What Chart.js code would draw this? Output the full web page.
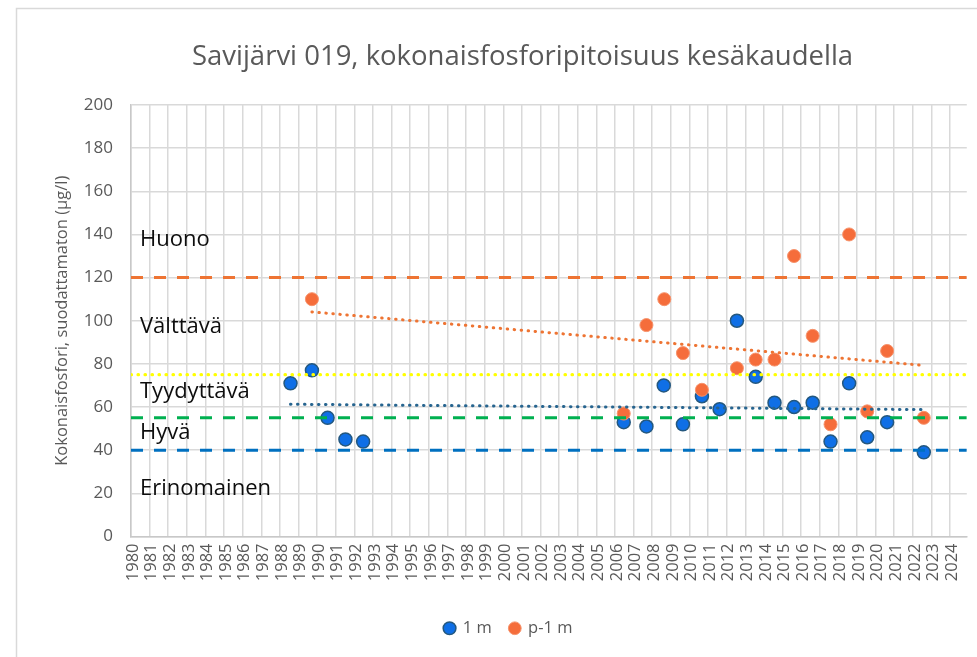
<!DOCTYPE html>
<html>
<head>
<meta charset="utf-8">
<script src="https://cdn.jsdelivr.net/npm/chart.js@4.4.1/dist/chart.umd.min.js"></script>
<style>
html,body{margin:0;padding:0;background:#fff;}
#wrap{position:relative;width:977px;height:657px;}
</style>
</head>
<body>
<div id="wrap"><canvas id="c" width="977" height="657"></canvas></div>
<script>
// ---- data ----
const years1m = [1988.57, 1989.72, 1990.56, 1991.52, 1992.47, 2006.47, 2007.69, 2008.62, 2009.65, 2010.67, 2011.62, 2012.55, 2013.56, 2014.57, 2015.62, 2016.62, 2017.58, 2018.58, 2019.55, 2020.62, 2022.59];
const values1m = [71, 77, 55, 45, 44, 53, 51, 70, 52, 65, 59, 100, 74, 62, 60, 62, 44, 71, 46, 53, 39];
const yearsP1m = [1989.72, 2006.47, 2007.69, 2008.65, 2009.65, 2010.67, 2012.55, 2013.56, 2014.57, 2015.62, 2016.62, 2017.58, 2018.58, 2019.55, 2020.62, 2022.59];
const valuesP1m = [110, 57, 98, 110, 85, 68, 78, 82, 82, 130, 93, 52, 140, 58, 86, 55];
const trend1mYears = [1988.57, 2022.59];
const trend1mValues = [61.3, 58.8];
const trendP1mYears = [1989.72, 2022.59];
const trendP1mValues = [104.1, 79.3];
const classLimits = [120, 75, 55, 40];
const classNames = ["Huono", "Välttävä", "Tyydyttävä", "Hyvä", "Erinomainen"];
const classLabelLevels = [138.1, 97.9, 67.7, 48.9, 22.9];
const xTickYears = [1980,1981,1982,1983,1984,1985,1986,1987,1988,1989,1990,1991,1992,1993,1994,1995,1996,1997,1998,1999,2000,2001,2002,2003,2004,2005,2006,2007,2008,2009,2010,2011,2012,2013,2014,2015,2016,2017,2018,2019,2020,2021,2022,2023,2024];
const yTickValues = [0,20,40,60,80,100,120,140,160,180,200];
const xRange = [1980, 2024.9];
const yRange = [0, 200];
const seriesNames = ["1 m", "p-1 m"];
const chartTitle = "Savijärvi 019, kokonaisfosforipitoisuus kesäkaudella";
const yTitle = "Kokonaisfosfori, suodattamaton (µg/l)";

// ---- styles ----
const limitColors = ["#EE7433", "#FFFF00", "#00B050", "#0070C0"];
const limitDashes = [[12, 11], [0.5, 6.5], [12, 11], [12, 11]];
const limitWidths = [3, 3.2, 3, 3];
const FONT = '"Open Sans", "Liberation Sans", sans-serif';
const GREY = '#595959';

const toXY = (xs, ys) => xs.map((x, i) => ({x: x, y: ys[i]}));

const datasets = [
  {
    label: seriesNames[0], data: toXY(years1m, values1m), showLine: false,
    pointRadius: 6.5, pointHoverRadius: 6.5,
    backgroundColor: '#0F6FE6', borderColor: '#24587F', borderWidth: 1.5,
    pointBackgroundColor: '#0F6FE6', pointBorderColor: '#24587F', pointBorderWidth: 1.5,
    order: 3, inLegend: true
  },
  {
    label: seriesNames[1], data: toXY(yearsP1m, valuesP1m), showLine: false,
    pointRadius: 6.5, pointHoverRadius: 6.5,
    backgroundColor: '#F56D3B', borderColor: '#F7936C', borderWidth: 1,
    pointBackgroundColor: '#F56D3B', pointBorderColor: '#F7936C', pointBorderWidth: 1,
    order: 2, inLegend: true
  },
  {
    label: 'trend 1 m', data: toXY(trend1mYears, trend1mValues), showLine: true,
    pointRadius: 0, borderColor: '#26648F', borderWidth: 3, borderDash: [0.5, 6.5],
    borderCapStyle: 'round', fill: false, order: 1, inLegend: false
  },
  {
    label: 'trend p-1 m', data: toXY(trendP1mYears, trendP1mValues), showLine: true,
    pointRadius: 0, borderColor: '#EE7433', borderWidth: 3, borderDash: [0.5, 6.5],
    borderCapStyle: 'round', fill: false, order: 1, inLegend: false
  }
];
classLimits.forEach((v, i) => {
  datasets.push({
    label: 'limit ' + v, data: toXY(xRange, [v, v]), showLine: true,
    pointRadius: 0, borderColor: limitColors[i], borderWidth: limitWidths[i],
    borderDash: limitDashes[i], borderCapStyle: i === 1 ? 'round' : 'butt',
    fill: false, order: 0, inLegend: false
  });
});

const framePlugin = {
  id: 'frame',
  beforeDraw(chart) {
    const ctx = chart.ctx;
    ctx.save();
    ctx.fillStyle = '#fff';
    ctx.fillRect(0, 0, chart.width, chart.height);
    ctx.strokeStyle = '#D9D9D9';
    ctx.lineWidth = 1.5;
    ctx.strokeRect(16.5, 8.5, chart.width + 20, chart.height + 20);
    ctx.restore();
  }
};

const regionLabelPlugin = {
  id: 'regionLabels',
  afterDatasetsDraw(chart) {
    const {ctx, chartArea, scales} = chart;
    ctx.save();
    ctx.font = '22px ' + FONT;
    ctx.fillStyle = '#0D0D0D';
    ctx.textAlign = 'left';
    ctx.textBaseline = 'alphabetic';
    classNames.forEach((t, i) => {
      ctx.fillText(t, chartArea.left + 9, scales.y.getPixelForValue(classLabelLevels[i]) + 7.9);
    });
    ctx.restore();
  }
};

const shiftPlugin = {
  id: 'shiftBlocks',
  afterLayout(chart) {
    if (chart.titleBlock) { chart.titleBlock.left += 30; chart.titleBlock.right += 30; }
    if (chart.legend) { chart.legend.left += 16; chart.legend.right += 16; }
  }
};

new Chart(document.getElementById('c'), {
  type: 'scatter',
  data: { datasets: datasets },
  plugins: [framePlugin, regionLabelPlugin, shiftPlugin],
  options: {
    responsive: false,
    animation: false,
    events: [],
    layout: { padding: { left: 16, right: 8, top: 0, bottom: 10.5 } },
    plugins: {
      tooltip: { enabled: false },
      title: {
        display: true, text: chartTitle, color: GREY,
        font: { family: FONT, size: 27.5, weight: 'normal', lineHeight: 1.2 },
        padding: { top: 40.5, bottom: 31.5 }
      },
      legend: {
        display: true, position: 'bottom',
        labels: {
          usePointStyle: true, pointStyle: 'circle', boxWidth: 10, boxHeight: 9,
          padding: 18, color: GREY,
          font: { family: FONT, size: 16.5 },
          filter: (item, data) => data.datasets[item.datasetIndex].inLegend,
          sort: (a, b) => a.datasetIndex - b.datasetIndex
        }
      }
    },
    scales: {
      x: {
        type: 'linear', min: xRange[0], max: xRange[1],
        afterBuildTicks: (s) => { s.ticks = xTickYears.map(v => ({value: v})); },
        afterFit: (s) => { s.height = 65.5; },
        ticks: {
          autoSkip: false, minRotation: 90, maxRotation: 90, padding: 7, labelOffset: 2,
          color: GREY, font: { family: FONT, size: 16.5 },
          callback: (v) => String(v)
        },
        grid: { color: '#D9D9D9', lineWidth: 1.5, drawTicks: false },
        border: { color: '#C8C8C8', width: 1.5 }
      },
      y: {
        type: 'linear', min: yRange[0], max: yRange[1],
        afterBuildTicks: (s) => { s.ticks = yTickValues.map(v => ({value: v})); },
        afterFit: (s) => { s.width = 115; },
        ticks: { padding: 18, color: GREY, font: { family: FONT, size: 17 } },
        grid: { color: '#D9D9D9', lineWidth: 1.5, drawTicks: false },
        border: { color: '#C8C8C8', width: 1.5 },
        title: {
          display: true, text: yTitle, color: GREY,
          font: { family: FONT, size: 16.5, lineHeight: 1.2 },
          padding: { top: 36, bottom: 0 }
        }
      }
    }
  }
});
</script>
</body>
</html>
